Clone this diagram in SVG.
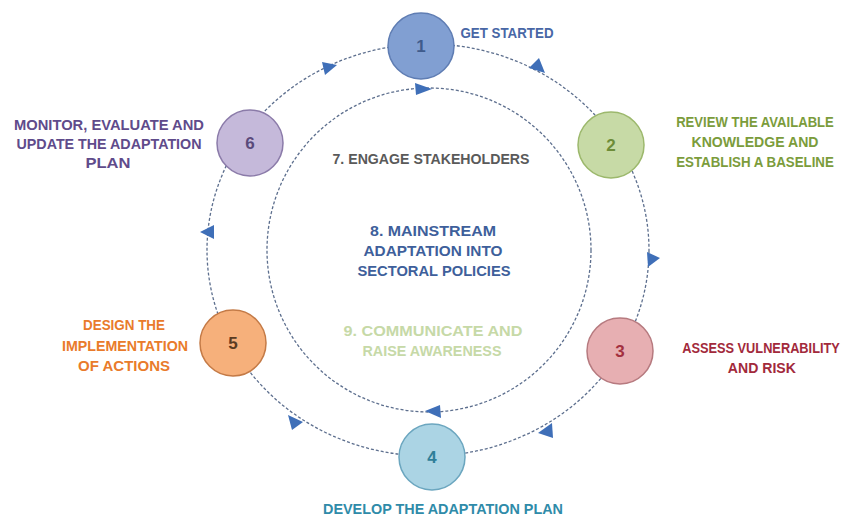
<svg xmlns="http://www.w3.org/2000/svg" width="848" height="518" viewBox="0 0 848 518">
<style>
text{font-family:"Liberation Sans","DejaVu Sans",sans-serif;font-weight:700;text-anchor:middle}
.ring{fill:none;stroke:#5d6f8e;stroke-width:1.3;stroke-dasharray:3 2}
.arr{fill:#3f6fb8}
.num{font-size:17px}
.lbl{font-size:15.5px}
.n{stroke-width:1.5}
</style>
<rect width="848" height="518" fill="#ffffff"/>
<g id="connectors">
<ellipse class="ring" cx="428" cy="250" rx="221" ry="206"/>
<circle class="ring" cx="429" cy="250" r="162"/>
<polygon class="arr" points="529,68 539,58 545,73"/>
<polygon class="arr" points="647,252 660,258 648,267"/>
<polygon class="arr" points="538,433 552,423 553,438"/>
<polygon class="arr" points="288,415 303,422 292,430"/>
<polygon class="arr" points="200,232 214,225 214,239"/>
<polygon class="arr" points="322,62 337,65 325,75"/>
<polygon class="arr" points="415,83 432,89 416,95"/>
<polygon class="arr" points="425,411 440,405 441,418"/>
</g>
<g id="node1">
<circle class="n" cx="421" cy="46" r="33" fill="#819fd2" stroke="#5f7db3"/>
<text class="num" x="421" y="52" fill="#3f5b8c">1</text>
<text class="lbl" x="507" y="38" fill="#4867a6" textLength="93" lengthAdjust="spacingAndGlyphs">GET STARTED</text>
</g>
<g id="node2">
<circle class="n" cx="611" cy="145" r="33" fill="#c7daa6" stroke="#9cb86c"/>
<text class="num" x="611" y="151" fill="#6d8c38">2</text>
<g transform="translate(755 0) scale(0.83 1)">
<text class="lbl" fill="#7b9c3b"><tspan x="0" y="127" textLength="190" lengthAdjust="spacingAndGlyphs">REVIEW THE AVAILABLE</tspan><tspan x="0" y="147" textLength="153" lengthAdjust="spacingAndGlyphs">KNOWLEDGE AND</tspan><tspan x="0" y="167" textLength="190" lengthAdjust="spacingAndGlyphs">ESTABLISH A BASELINE</tspan></text>
</g>
</g>
<g id="node3">
<circle class="n" cx="620" cy="351" r="33" fill="#e7afb2" stroke="#b67a7f"/>
<text class="num" x="620" y="357" fill="#a3303f">3</text>
<g transform="translate(761 0) scale(0.83 1)">
<text class="lbl" fill="#a2293b"><tspan x="0" y="353" textLength="190" lengthAdjust="spacingAndGlyphs">ASSESS VULNERABILITY</tspan><tspan x="1" y="373" textLength="82" lengthAdjust="spacingAndGlyphs">AND RISK</tspan></text>
</g>
</g>
<g id="node4">
<circle class="n" cx="432" cy="457" r="33" fill="#abd4e4" stroke="#6ba6bf"/>
<text class="num" x="432" y="463" fill="#2f7f99">4</text>
<text class="lbl" x="443" y="514" fill="#2f8ba9" textLength="240" lengthAdjust="spacingAndGlyphs">DEVELOP THE ADAPTATION PLAN</text>
</g>
<g id="node5">
<circle class="n" cx="233" cy="343" r="33" fill="#f6b07b" stroke="#c47a46"/>
<text class="num" x="233" y="349" fill="#5a3b22">5</text>
<text class="lbl" fill="#e97b2b"><tspan x="124" y="330" textLength="82" lengthAdjust="spacingAndGlyphs">DESIGN THE</tspan><tspan x="125" y="351" textLength="126" lengthAdjust="spacingAndGlyphs">IMPLEMENTATION</tspan><tspan x="124" y="371" textLength="92" lengthAdjust="spacingAndGlyphs">OF ACTIONS</tspan></text>
</g>
<g id="node6">
<circle class="n" cx="250" cy="143" r="33" fill="#c5b9da" stroke="#8b7ba9"/>
<text class="num" x="250" y="149" fill="#5a4a7b">6</text>
<text class="lbl" fill="#5f4b8b"><tspan x="109" y="130" textLength="190" lengthAdjust="spacingAndGlyphs">MONITOR, EVALUATE AND</tspan><tspan x="109" y="149" textLength="185" lengthAdjust="spacingAndGlyphs">UPDATE THE ADAPTATION</tspan><tspan x="108" y="168" textLength="45" lengthAdjust="spacingAndGlyphs">PLAN</tspan></text>
</g>
<g id="node7">
<text class="lbl" x="431" y="164" fill="#5a5a5a" textLength="197" lengthAdjust="spacingAndGlyphs">7. ENGAGE STAKEHOLDERS</text>
</g>
<g id="node8">
<text class="lbl" fill="#3e5f9b"><tspan x="433" y="236" textLength="126" lengthAdjust="spacingAndGlyphs">8. MAINSTREAM</tspan><tspan x="433" y="256" textLength="139" lengthAdjust="spacingAndGlyphs">ADAPTATION INTO</tspan><tspan x="434" y="276" textLength="153" lengthAdjust="spacingAndGlyphs">SECTORAL POLICIES</tspan></text>
</g>
<g id="node9">
<text class="lbl" fill="#c6d9a7"><tspan x="433" y="336" textLength="179" lengthAdjust="spacingAndGlyphs">9. COMMUNICATE AND</tspan><tspan x="432" y="356" textLength="139" lengthAdjust="spacingAndGlyphs">RAISE AWARENESS</tspan></text>
</g>
</svg>
